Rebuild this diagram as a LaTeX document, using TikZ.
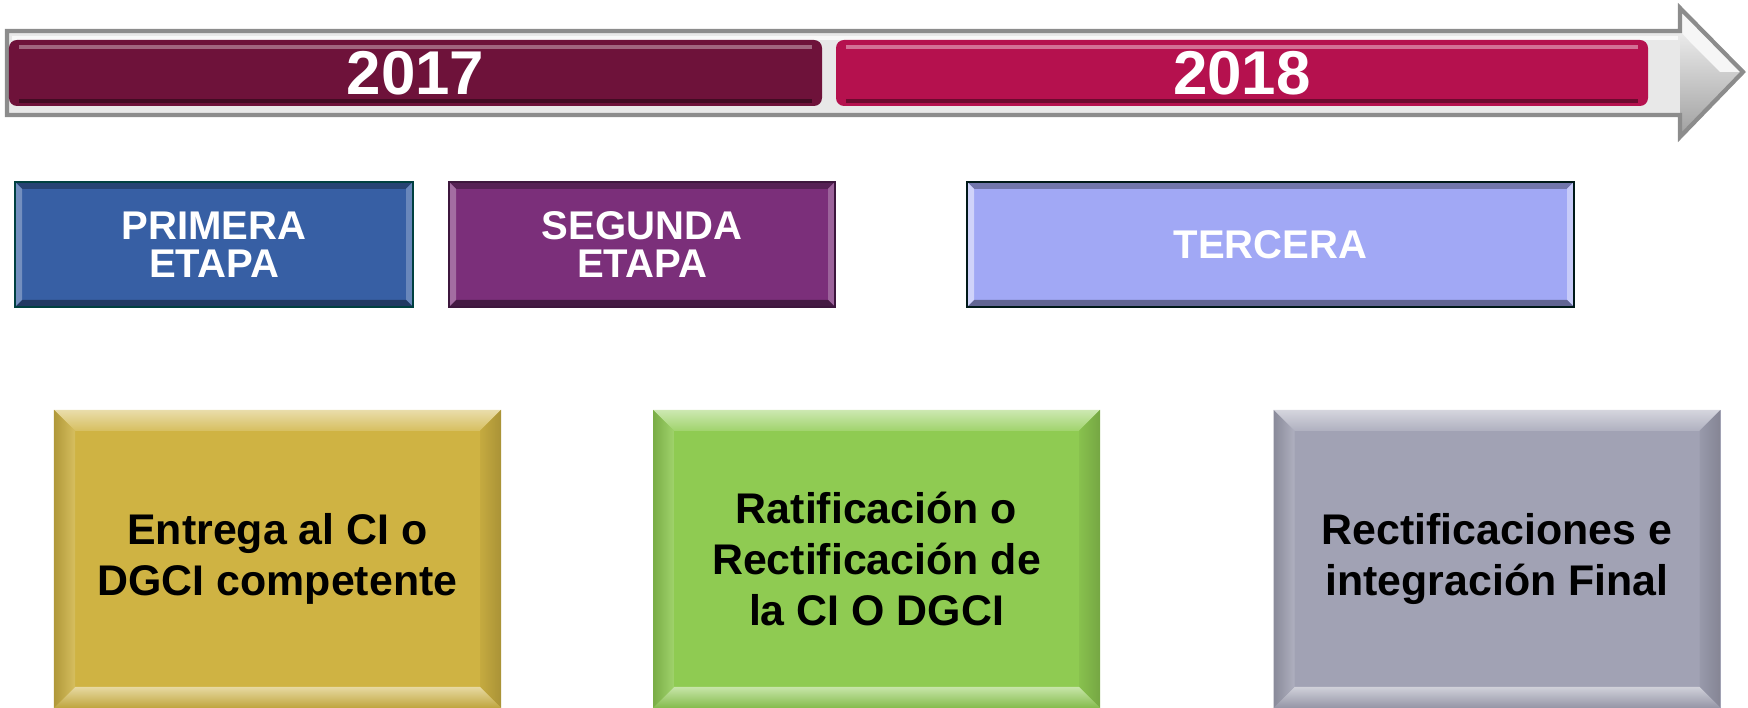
\documentclass[tikz,border=0pt]{standalone}
\usepackage{fontspec}
\setmainfont{Liberation Sans}

\definecolor{yrA}{HTML}{6E123A}
\definecolor{yrB}{HTML}{B5114E}
\definecolor{shaft}{HTML}{E8E8E8}
\definecolor{shaftline}{HTML}{8C8C8C}
\definecolor{primera}{HTML}{375FA4}
\definecolor{segunda}{HTML}{7B2F7A}
\definecolor{tercera}{HTML}{A1A8F5}
\definecolor{amarillo}{HTML}{CFB343}
\definecolor{verde}{HTML}{8FCB52}
\definecolor{gris}{HTML}{A1A2B4}

% bevel: node, width, top, right, bottom, left
\newcommand{\bevel}[6]{%
  \fill[#3] (#1.north west) -- (#1.north east) -- ([shift={(-#2,-#2)}]#1.north east) -- ([shift={(#2,-#2)}]#1.north west) -- cycle;
  \fill[#4] (#1.north east) -- (#1.south east) -- ([shift={(-#2,#2)}]#1.south east) -- ([shift={(-#2,-#2)}]#1.north east) -- cycle;
  \fill[#5] (#1.south east) -- (#1.south west) -- ([shift={(#2,#2)}]#1.south west) -- ([shift={(-#2,#2)}]#1.south east) -- cycle;
  \fill[#6] (#1.south west) -- (#1.north west) -- ([shift={(#2,-#2)}]#1.north west) -- ([shift={(#2,#2)}]#1.south west) -- cycle;
}
% shaded bevel: node, width, colour
\newcommand{\softbevel}[3]{%
  \shade[top color=#3!45!white, bottom color=#3!85!white] (#1.north west) -- (#1.north east) -- ([shift={(-#2,-#2)}]#1.north east) -- ([shift={(#2,-#2)}]#1.north west) -- cycle;
  \shade[left color=#3!95!black, right color=#3!82!black] (#1.north east) -- (#1.south east) -- ([shift={(-#2,#2)}]#1.south east) -- ([shift={(-#2,-#2)}]#1.north east) -- cycle;
  \shade[top color=#3!50!white, bottom color=#3!92!black] (#1.south east) -- (#1.south west) -- ([shift={(#2,#2)}]#1.south west) -- ([shift={(-#2,#2)}]#1.south east) -- cycle;
  \shade[left color=#3!85!black, right color=#3!85!white] (#1.south west) -- (#1.north west) -- ([shift={(#2,-#2)}]#1.north west) -- ([shift={(#2,#2)}]#1.south west) -- cycle;
}

\begin{document}
\begin{tikzpicture}[
  yearbar/.style={rounded corners=0.08cm, inner sep=0, outer sep=0, text=white,
    minimum height=0.66cm, font=\fontsize{17.6}{20}\selectfont\bfseries},
  stagebox/.style={inner sep=0, outer sep=0, text=white, align=center,
    minimum height=1.25cm, font=\fontsize{11.4}{10.8}\selectfont\bfseries},
  taskbox/.style={inner sep=0, outer sep=0, text=black, align=center,
    minimum width=4.47cm, minimum height=2.98cm, font=\fontsize{12.2}{14.5}\selectfont\bfseries}]

\useasboundingbox (0,0) rectangle (17.48,7.08);

% timeline arrow
\fill[shaft] (0.07,6.77) -- (16.80,6.77) -- (16.80,5.93) -- (0.07,5.93) -- cycle;
\shade[top color=white!85!shaft, bottom color=gray!75] (16.80,7.00) -- (17.43,6.36) -- (16.80,5.71) -- cycle;
\fill[white!60!shaft] (16.80,6.77) -- (16.80,7.00) -- (17.43,6.36) -- (17.20,6.36) -- (16.92,6.64) -- cycle;
\draw[shaftline, line width=1.2pt] (0.07,6.77) -- (16.80,6.77) -- (16.80,7.00)
  -- (17.43,6.36) -- (16.80,5.71) -- (16.80,5.93) -- (0.07,5.93) -- cycle;
\fill[white!70!shaft] (0.12,6.72) rectangle (16.78,6.68);

\node [yearbar, fill=yrA, minimum width=8.13cm] (y2017) at (4.155,6.35) {2017};
\node [yearbar, fill=yrB, minimum width=8.12cm] (y2018) at (12.42,6.35) {2018};
\draw[yrA!65!white, line width=1.2pt] ([shift={(0.1,-0.07)}]y2017.north west) -- ([shift={(-0.1,-0.07)}]y2017.north east);
\draw[yrB!60!white, line width=1.2pt] ([shift={(0.1,-0.07)}]y2018.north west) -- ([shift={(-0.1,-0.07)}]y2018.north east);
\draw[yrA!60!black, line width=1.2pt] ([shift={(0.1,0.05)}]y2017.south west) -- ([shift={(-0.1,0.05)}]y2017.south east);
\draw[yrB!60!black, line width=1.2pt] ([shift={(0.1,0.05)}]y2018.south west) -- ([shift={(-0.1,0.05)}]y2018.south east);

% etapas
\node [stagebox, fill=primera, minimum width=3.98cm] (etapa1) at (2.14,4.635) {PRIMERA\\ETAPA};
\bevel{etapa1}{0.07}{primera!70!black}{primera!75!white}{primera!60!black}{primera!70!white}
\draw[teal!50!black, line width=0.8pt] (etapa1.north west) rectangle (etapa1.south east);

\node [stagebox, fill=segunda, minimum width=3.86cm] (etapa2) at (6.42,4.635) {SEGUNDA\\ETAPA};
\bevel{etapa2}{0.07}{segunda!70!black}{segunda!75!white}{segunda!55!black}{segunda!70!white}
\draw[segunda!50!black, line width=0.8pt] (etapa2.north west) rectangle (etapa2.south east);

\node [stagebox, fill=tercera, minimum width=6.07cm] (etapa3) at (12.705,4.635) {TERCERA};
\bevel{etapa3}{0.07}{tercera!70!black}{tercera!60!white}{tercera!60!black}{tercera!50!white}
\draw[black!80!teal, line width=0.8pt] (etapa3.north west) rectangle (etapa3.south east);

% actividades
\node [taskbox, fill=amarillo] (tarea1) at (2.775,1.49) {Entrega al CI o\\DGCI competente};
\softbevel{tarea1}{0.21}{amarillo}

\node [taskbox, fill=verde] (tarea2) at (8.765,1.49) {Ratificación o\\Rectificación de\\la CI O DGCI};
\softbevel{tarea2}{0.21}{verde}

\node [taskbox, fill=gris] (tarea3) at (14.97,1.49) {Rectificaciones e\\integración Final};
\softbevel{tarea3}{0.21}{gris}

\end{tikzpicture}
\end{document}
